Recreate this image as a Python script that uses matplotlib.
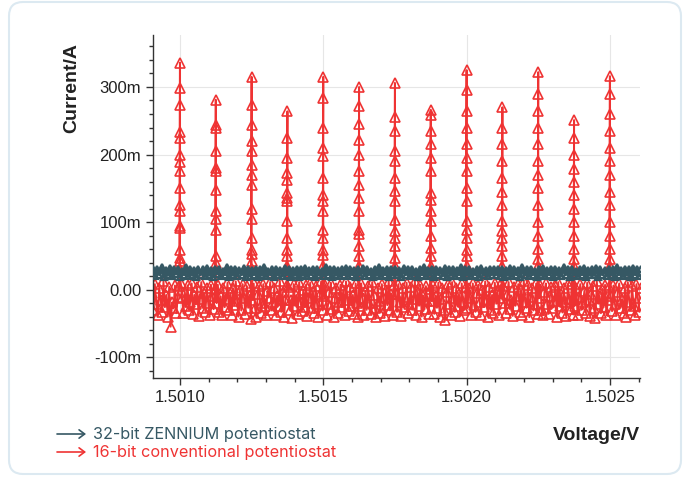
import numpy as np
import matplotlib.pyplot as plt
from matplotlib.patches import FancyBboxPatch, FancyArrowPatch
from matplotlib.ticker import MultipleLocator, FuncFormatter

# voltage range of the sweep (V)
v_start, v_end = 1.50090, 1.50261

# spike positions (V) and current levels along each spike (mA)
spike_v = [1.501000, 1.501125, 1.501250, 1.501375, 1.501500, 1.501625, 1.501750,
           1.501875, 1.502000, 1.502125, 1.502250, 1.502375, 1.502500]
spike_vals = [
    [336, 299, 274, 233, 224, 199, 189, 175, 150, 125, 116, 94, 91, 58, 46, 42, 30],
    [281, 244, 239, 205, 180, 176, 147, 116, 105, 88, 49, 39, 30],
    [315, 273, 244, 220, 205, 184, 169, 155, 120, 105, 76, 58, 53, 43, 30],
    [264, 224, 195, 172, 162, 143, 135, 131, 101, 76, 58, 49, 35],
    [315, 284, 239, 209, 198, 165, 140, 131, 116, 88, 76, 58, 51, 35],
    [300, 272, 245, 222, 200, 175, 155, 135, 116, 88, 83, 65, 49, 35],
    [306, 255, 235, 205, 190, 165, 146, 131, 103, 86, 76, 64, 46, 35],
    [266, 258, 235, 215, 195, 175, 143, 132, 116, 101, 80, 61, 49, 35],
    [325, 295, 265, 240, 215, 195, 175, 150, 131, 101, 88, 76, 58, 49, 35],
    [270, 240, 215, 190, 165, 145, 125, 101, 86, 76, 65, 49, 35],
    [322, 290, 265, 240, 215, 190, 170, 150, 125, 100, 80, 60, 45, 35],
    [251, 225, 200, 178, 160, 140, 120, 100, 80, 60, 45, 35],
    [316, 290, 260, 235, 210, 190, 170, 145, 125, 100, 80, 60, 45, 35],
]

# 16-bit noise between the spikes (mA)
noise_vals = [
    [-5, -30, 8, -22, -38, 2, -15, -33, 12, -26, -8, -40, 4, -55, -19, -28, 6, -35, -11, 5],
    [10, -12, -35, -3, -25, 6, -30, -18, 9, -36, -8, -22, 4, -39, -14, 11, -27, -5, -33, 3, -20, -38, 7, -10, -29, 1],
    [-20, 7, -33, -10, -38, 3, -26, -14, 10, -30, -5, -37, 2, -23, 12, -17, -40, -1, -31, 8, -12, -36, 5, -27, -8, -43],
    [-15, 9, -28, -40, -6, 5, -34, -20, 8, -25, -38, -2, -12, 11, -31, -18, 3, -37, -9, -24, 13, -33, -4, -41, -16, 6],
    [4, -30, -16, -42, 8, -24, -8, -36, 11, -18, -32, 0, -26, 7, -39, -13, 10, -28, -3, -35, 5, -21, -40, -7, 12, -31],
    [-10, 6, -37, -22, -4, 10, -29, -40, -12, 3, -34, -19, 7, -26, -1, -38, 12, -15, -32, 4, -24, -8, -36, 9, -20, -41],
    [-25, 9, -13, -38, -2, -30, 5, -20, -36, 11, -8, -28, -41, 3, -17, -34, 8, -11, -39, 0, -23, 13, -31, -6, -37, 6],
    [-6, -33, 8, -18, -39, 2, -26, -11, 10, -35, -21, 4, -30, -14, 12, -38, -3, -24, 7, -40, -9, -29, 5, -17, -36, 1],
    [-17, 6, -36, -9, -27, 10, -40, -14, 3, -31, -45, -4, 8, -22, -37, 11, -12, -33, 2, -25, -7, -39, 9, -19, -30, 4],
    [-28, 2, -12, -38, 9, -23, -33, -5, 7, -19, -37, 0, -26, 12, -15, -40, 4, -30, -8, -35, 10, -21, -2, -38, 6, -13],
    [5, -20, -35, -8, 11, -29, -15, -39, 4, -24, -10, 8, -33, -1, -37, 13, -18, -27, 6, -41, -11, 2, -31, -22, 9, -36],
    [-13, 7, -31, -38, -3, 9, -22, -36, -9, 4, -27, -17, 6, -40, 11, -25, -6, -34, 2, -19, -39, 8, -14, -29, 12, -37],
    [-24, 3, -37, -11, 8, -30, -19, -2, -34, 10, -15, -39, -6, 5, -28, -42, 12, -21, -9, -35, 1, -26, 7, -38, -16, 4],
    [-9, -32, 6, -21, -38, -4, 9, -27, -14, -35, 2, -40, 11, -18, -30, 5, -24, -37, 8, -12, -33, 3],
]

# 32-bit ZENNIUM current (mA)
zennium_vals = [
    21, 31, 20, 30, 22, 33, 19, 29, 21, 32, 20, 30, 23, 31, 19, 28, 22, 33, 20, 30, 21, 29, 19, 31,
    22, 30, 20, 32, 21, 29, 19, 31, 23, 30, 20, 28, 22, 33, 19, 30, 21, 31, 20, 29, 22, 32, 19, 30,
    20, 29, 22, 31, 19, 30, 21, 33, 20, 28, 22, 30, 19, 31, 21, 29, 20, 32, 22, 30, 19, 29, 21, 31,
    19, 30, 21, 32, 20, 29, 22, 31, 19, 30, 21, 28, 20, 33, 22, 30, 19, 31, 21, 29, 20, 30, 22, 32,
    20, 31, 22, 29, 19, 30, 21, 32, 20, 30, 22, 28, 19, 31, 21, 33, 20, 29, 22, 30, 19, 31, 21, 30,
    21, 29, 19, 32, 22, 30, 20, 31, 21, 28, 19, 30, 22, 33, 20, 29, 21, 31, 19, 30, 22, 29, 20, 32,
    19, 31, 21, 30, 20, 29, 22, 33, 19, 30, 21, 31, 20, 28, 22, 30, 19, 32, 21, 29, 20, 31, 22, 30,
    22, 30, 20, 31, 19, 29, 21, 32, 20, 30, 22, 29, 19, 33, 21, 30, 20, 31, 22, 28, 19, 30, 21, 32,
    20, 29, 22, 31, 19, 30, 21, 29, 20, 33, 22, 30, 19, 31, 21, 28, 20, 30, 22, 32, 19, 29, 21, 31,
    21, 32, 19, 30, 22, 29, 20, 31, 21, 30, 19, 33, 22, 29, 20, 31, 21, 30, 19, 32, 22, 30, 20, 31,
]

zennium_color = '#365864'
conv_color = '#ef3333'

# build the 16-bit trace: noise segment, spike, noise segment, ...
edges = [v_start] + spike_v + [v_end]
conv_v, conv_i = [], []
for k, seg in enumerate(noise_vals):
    lo, hi = edges[k], edges[k + 1]
    pad = 0.0000025
    conv_v.extend(np.linspace(lo + pad, hi - pad, len(seg)))
    conv_i.extend(seg)
    if k < len(spike_v):
        conv_v.extend([spike_v[k]] * len(spike_vals[k]))
        conv_i.extend(spike_vals[k])

zen_v = np.linspace(v_start, v_end, len(zennium_vals))

fig = plt.figure(figsize=(6.85, 4.82), dpi=100)
card = FancyBboxPatch((9, 8), 672, 472, boxstyle='round,pad=0,rounding_size=14',
                      transform=None, facecolor='none', edgecolor='#dce9f1',
                      linewidth=1.5, zorder=-10)
fig.add_artist(card)

ax = fig.add_axes([153 / 685, 1 - 378 / 482, (640 - 153) / 685, (378 - 35) / 482])
ax.set_facecolor('none')

ax.plot(conv_v, conv_i, color=conv_color, lw=1.4, marker='^', ms=6.5,
        markerfacecolor='none', markeredgewidth=1.2, zorder=2)
ax.plot(zen_v, zennium_vals, color=zennium_color, lw=2.2, marker='^', ms=4.5,
        markerfacecolor='none', markeredgewidth=1.6, zorder=3)

ax.set_xlim(1.500906, 1.502605)
ax.set_ylim(-131, 377)

ax.xaxis.set_major_locator(MultipleLocator(0.0005))
ax.xaxis.set_minor_locator(MultipleLocator(0.0001))
ax.yaxis.set_major_locator(MultipleLocator(100))
ax.yaxis.set_minor_locator(MultipleLocator(20))
ax.xaxis.set_major_formatter(FuncFormatter(lambda v, p: f'{v:.4f}'))
ax.yaxis.set_major_formatter(FuncFormatter(lambda v, p: '0.00' if abs(v) < 1e-9 else f'{int(round(v))}m'))

ax.grid(True, which='major', color='#e6e6e6', lw=0.8, zorder=0)
ax.set_axisbelow(True)
for s in ['top', 'right']:
    ax.spines[s].set_visible(False)
for s in ['left', 'bottom']:
    ax.spines[s].set_color('#333333')
    ax.spines[s].set_linewidth(1.0)

ax.tick_params(which='major', length=5, width=1, color='#333333', labelsize=12,
               labelcolor='#222222')
ax.tick_params(which='minor', length=3, width=1, color='#333333')
for lab in ax.get_xticklabels() + ax.get_yticklabels():
    lab.set_family('Liberation Sans')

fig.text(72 / 685, 1 - 88 / 482, 'Current/A', rotation=90, ha='center', va='center',
         fontsize=14, fontweight='bold', family='Liberation Sans', color='#222222')
fig.text(640 / 685, 1 - 436 / 482, 'Voltage/V', ha='right', va='center',
         fontsize=14, fontweight='bold', family='Liberation Sans', color='#222222')

# legend with arrows
leg = [('32-bit ZENNIUM potentiostat', zennium_color, 434),
       ('16-bit conventional potentiostat', conv_color, 452)]
for label, col, ypix in leg:
    yf = 1 - ypix / 482
    arr = FancyArrowPatch((57 / 685, yf), (86 / 685, yf), transform=fig.transFigure,
                          arrowstyle='->,head_length=4,head_width=3', color=col, lw=1.2,
                          shrinkA=0, shrinkB=0)
    fig.add_artist(arr)
    fig.text(93 / 685, yf, label, ha='left', va='center', fontsize=11.7, family='Inter', color=col)

fig.savefig('out.png', dpi=100)
